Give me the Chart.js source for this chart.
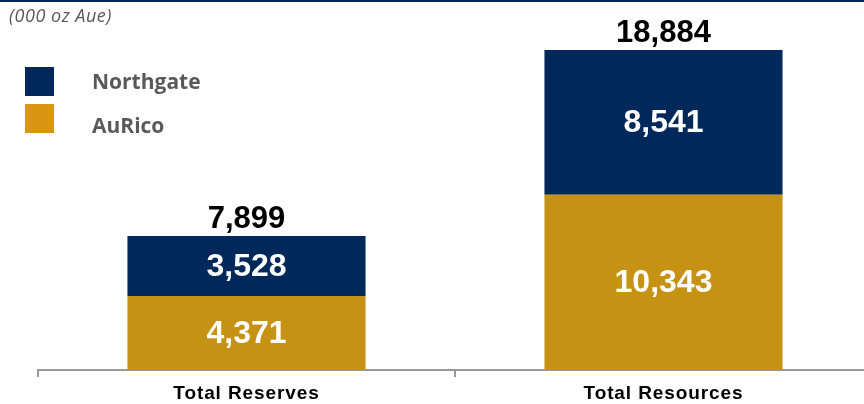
<!DOCTYPE html>
<html>
<head>
<meta charset="utf-8">
<script src="https://cdn.jsdelivr.net/npm/chart.js@4"></script>
<style>
  html, body { margin: 0; padding: 0; background: #fff; overflow: hidden; }
  #marco { position: relative; width: 864px; height: 404px; overflow: hidden; }
  #linea { position: absolute; left: 0; top: 0; width: 864px; height: 2px; background: #002855; }
  #unidad { position: absolute; left: 9px; top: 3px; font: italic 18px 'Open Sans'; letter-spacing: 0.5px; color: #595959; }
  .cuadro { position: absolute; left: 25px; width: 29px; height: 29px; }
  .texto { position: absolute; left: 92px; font: bold 21px 'Open Sans'; line-height: 28px; color: #595959; }
  #contenedor { position: absolute; left: 0; top: 0; width: 880px; height: 404px; }
</style>
</head>
<body>
<div id="marco">
  <div id="contenedor"><canvas id="graficaOnzas"></canvas></div>
  <div id="linea"></div>
  <div id="unidad">(000 oz Aue)</div>
  <div id="leyenda"></div>
</div>
<script>
const categorias = ['Total Reserves', 'Total Resources'];
const aurico = [4371, 10343];
const northgate = [3528, 8541];
const totales = categorias.map((c, i) => aurico[i] + northgate[i]);

const colorNavy = '#00285A';
const colorOro = '#C69214';

const formato = v => v.toLocaleString('en-US');

// espaciado de letras solo para las etiquetas del eje
const espaciado = {
  id: 'espaciado',
  beforeDraw(chart) { chart.ctx.letterSpacing = '0.9px'; },
  beforeDatasetsDraw(chart) { chart.ctx.letterSpacing = '0px'; },
};

const etiquetas = {
  id: 'etiquetas',
  afterDatasetsDraw(chart) {
    const ctx = chart.ctx;
    ctx.save();
    ctx.textAlign = 'center';
    ctx.font = 'bold 32px "Liberation Sans"';
    chart.data.datasets.forEach((ds, i) => {
      chart.getDatasetMeta(i).data.forEach((barra, j) => {
        ctx.fillStyle = '#fff';
        ctx.textBaseline = 'middle';
        ctx.fillText(formato(ds.data[j]), barra.x, (barra.y + barra.base) / 2 + 1);
      });
    });
    ctx.font = 'bold 31px "Liberation Sans"';
    const arriba = chart.getDatasetMeta(chart.data.datasets.length - 1);
    arriba.data.forEach((barra, j) => {
      ctx.fillStyle = '#000';
      ctx.textBaseline = 'alphabetic';
      ctx.fillText(formato(totales[j]), barra.x, barra.y - 8);
    });
    ctx.restore();
  }
};

const grafica = new Chart(document.getElementById('graficaOnzas'), {
  type: 'bar',
  data: {
    labels: categorias,
    datasets: [
      { label: 'AuRico', data: aurico, backgroundColor: colorOro, categoryPercentage: 1, barPercentage: 0.571 },
      { label: 'Northgate', data: northgate, backgroundColor: colorNavy, categoryPercentage: 1, barPercentage: 0.571 },
    ],
  },
  options: {
    responsive: true,
    maintainAspectRatio: false,
    animation: false,
    layout: { padding: { left: 38, right: 8, top: 31, bottom: 0 } },
    plugins: { legend: { display: false }, tooltip: { enabled: false } },
    scales: {
      x: {
        stacked: true,
        afterFit: s => { s.height = 34; },
        grid: { offset: true, drawOnChartArea: false, tickLength: 7, lineWidth: 2, color: '#999999' },
        border: { color: '#999999', width: 2 },
        ticks: { color: '#000', padding: 5, font: { family: 'Liberation Sans', size: 19, weight: 'bold' } },
      },
      y: { stacked: true, display: false, min: 0, max: 20000 },
    },
  },
  plugins: [espaciado, etiquetas],
});

// leyenda con Northgate arriba
const leyenda = document.getElementById('leyenda');
const cuadrosY = [67, 104];
const textosY = [67, 111];
[...grafica.data.datasets].reverse().forEach((ds, i) => {
  const color = ds.label === 'AuRico' ? '#D99513' : ds.backgroundColor;
  const cuadro = document.createElement('div');
  cuadro.className = 'cuadro';
  cuadro.style.top = cuadrosY[i] + 'px';
  cuadro.style.background = color;
  const texto = document.createElement('div');
  texto.className = 'texto';
  texto.style.top = textosY[i] + 'px';
  texto.textContent = ds.label;
  leyenda.appendChild(cuadro);
  leyenda.appendChild(texto);
});
</script>
</body>
</html>
